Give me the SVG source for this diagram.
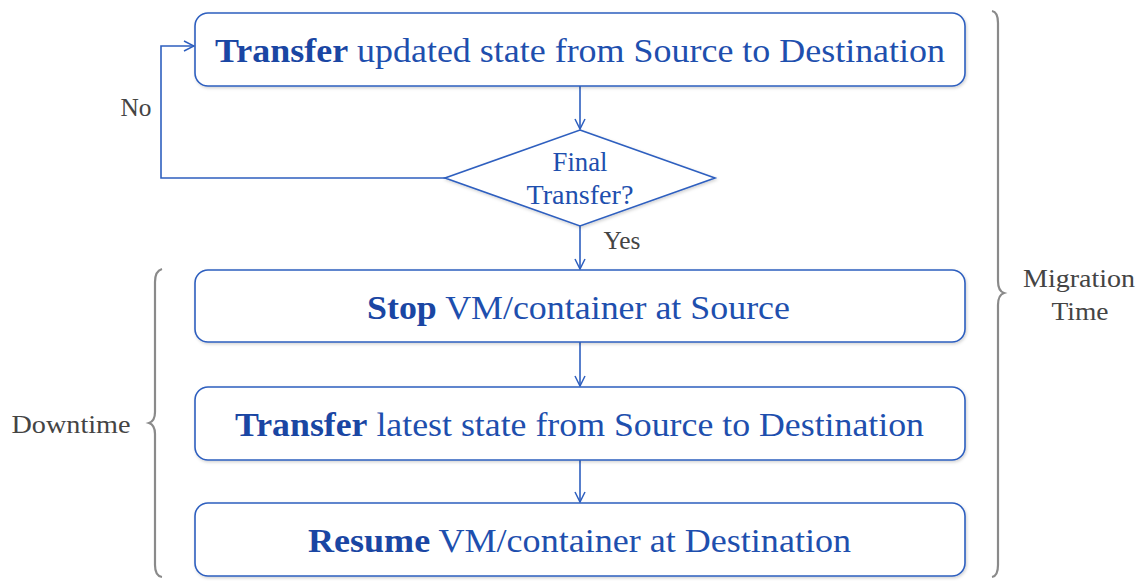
<svg xmlns="http://www.w3.org/2000/svg" width="1145" height="581" viewBox="0 0 1145 581">
<defs>
<style>
.box{fill:#fff;stroke:#2e5fbf;stroke-width:1.6}
.lbl{font-family:"Liberation Serif","DejaVu Serif",serif;fill:#1e4fae;font-size:34px}
.b{font-weight:bold;fill:#1a46a3}
.dtx{font-family:"Liberation Serif","DejaVu Serif",serif;fill:#1e4fae;font-size:27px;text-anchor:middle}
.gray{font-family:"Liberation Serif","DejaVu Serif",serif;fill:#444;font-size:26px;text-anchor:middle}
.con{fill:none;stroke:#2e5fbf;stroke-width:1.6}
.brace{fill:none;stroke:#8a8a8a;stroke-width:2.2}
</style>
<marker id="arr" viewBox="0 0 12 12" refX="11" refY="6" markerWidth="12" markerHeight="12" markerUnits="userSpaceOnUse" orient="auto">
<path d="M1,1 L11,6 L1,11" fill="none" stroke="#2e5fbf" stroke-width="1.5"/>
</marker>
<filter id="sh" x="-5%" y="-20%" width="110%" height="140%">
<feDropShadow dx="1" dy="1.5" stdDeviation="1.5" flood-color="#000" flood-opacity="0.18"/>
</filter>
</defs>
<rect width="1145" height="581" fill="#fff"/>
<g id="connectors">
<line class="con" x1="580" y1="86" x2="580" y2="129" marker-end="url(#arr)"/>
<line class="con" x1="580" y1="226" x2="580" y2="269" marker-end="url(#arr)"/>
<line class="con" x1="580" y1="342" x2="580" y2="386" marker-end="url(#arr)"/>
<line class="con" x1="580" y1="460" x2="580" y2="502" marker-end="url(#arr)"/>
<polyline class="con" points="445,178 161,178 161,46 194,46" marker-end="url(#arr)"/>
<text class="gray" x="136" y="116" textLength="31" lengthAdjust="spacingAndGlyphs">No</text>
<text class="gray" x="622" y="249" textLength="37" lengthAdjust="spacingAndGlyphs">Yes</text>
</g>
<g id="n1">
<rect class="box" x="195" y="13" width="770" height="73" rx="13" filter="url(#sh)"/>
<text class="lbl" x="215" y="62" textLength="730" lengthAdjust="spacingAndGlyphs"><tspan class="b">Transfer</tspan> updated state from Source to Destination</text>
</g>
<g id="decision">
<polygon class="box" points="580,130 715,178 580,226 445,178" filter="url(#sh)"/>
<text class="dtx" x="580" y="171" textLength="55" lengthAdjust="spacingAndGlyphs">Final</text>
<text class="dtx" x="580" y="204" textLength="107" lengthAdjust="spacingAndGlyphs">Transfer?</text>
</g>
<g id="n2">
<rect class="box" x="195" y="270" width="770" height="72" rx="13" filter="url(#sh)"/>
<text class="lbl" x="367" y="319" textLength="423" lengthAdjust="spacingAndGlyphs"><tspan class="b">Stop</tspan> VM/container at Source</text>
</g>
<g id="n3">
<rect class="box" x="195" y="387" width="770" height="73" rx="13" filter="url(#sh)"/>
<text class="lbl" x="235" y="436" textLength="689" lengthAdjust="spacingAndGlyphs"><tspan class="b">Transfer</tspan> latest state from Source to Destination</text>
</g>
<g id="n4">
<rect class="box" x="195" y="503" width="770" height="73" rx="13" filter="url(#sh)"/>
<text class="lbl" x="308" y="552" textLength="543" lengthAdjust="spacingAndGlyphs"><tspan class="b">Resume</tspan> VM/container at Destination</text>
</g>
<g id="migration">
<path class="brace" d="M992,11 Q998,12 998,23 L998,281 Q998,291 1004,293 Q998,295 998,305 L998,565 Q998,576 992,577"/>
<text class="gray" x="1079" y="287" textLength="112" lengthAdjust="spacingAndGlyphs">Migration</text>
<text class="gray" x="1080" y="320" textLength="57" lengthAdjust="spacingAndGlyphs">Time</text>
</g>
<g id="downtime">
<path class="brace" d="M162,269 Q155,271 155,282 L155,412 Q155,421 149,423 Q155,425 155,434 L155,565 Q155,576 162,577"/>
<text class="gray" x="71" y="433" textLength="119" lengthAdjust="spacingAndGlyphs">Downtime</text>
</g>
</svg>
